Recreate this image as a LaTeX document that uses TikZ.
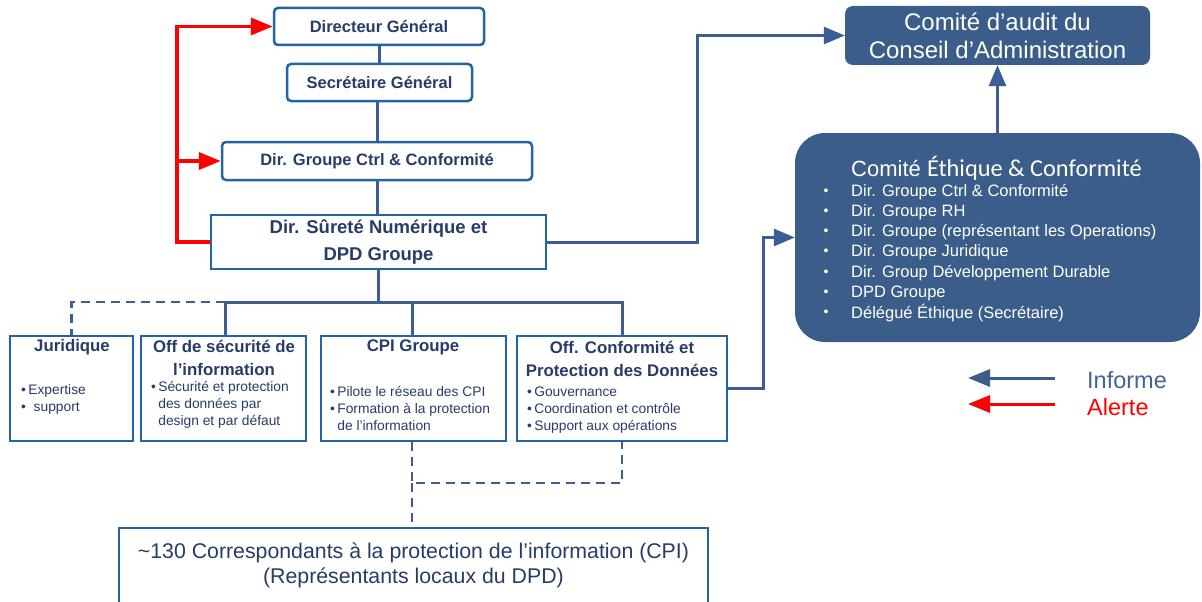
\documentclass[tikz,border=0pt]{standalone}
\usepackage{fontspec}
\setmainfont{Liberation Sans}
\newfontfamily\calib{Carlito}
\usetikzlibrary{arrows.meta}
\definecolor{bord}{RGB}{35,100,165}
\definecolor{navy}{RGB}{40,60,105}
\definecolor{conn}{RGB}{62,92,150}
\definecolor{cfill}{RGB}{58,93,138}
\definecolor{alertred}{RGB}{255,0,0}
\definecolor{legblue}{RGB}{70,100,145}
\begin{document}
\begin{tikzpicture}[x=1pt,y=-1pt,
 box/.style={draw=bord,line width=2.5pt,rounded corners=4pt,fill=white,inner sep=0pt,text=navy,align=center,font=\bfseries\fontsize{16.5}{20}\selectfont},
 sqbox/.style={box,rounded corners=0pt},
 cbox/.style={fill=cfill,draw=none,text=white,inner sep=0pt,align=center},
 inf/.style={draw=conn,line width=3pt},
 infarr/.style={inf,-{Triangle[length=21pt,width=17pt]}},
 alertarr/.style={draw=alertred,line width=3.5pt,-{Triangle[length=22pt,width=17pt]}},
 dashline/.style={draw=conn,line width=2.5pt,dash pattern=on 9pt off 6pt},
 ttl/.style={text=navy,font=\bfseries\fontsize{16.8}{23}\selectfont,align=center,inner sep=0pt},
 bul/.style={text=navy,font=\fontsize{13.8}{17.3}\selectfont,align=left,inner sep=0pt,anchor=north west},
 eitem/.style={text=white,font=\fontsize{16.5}{20}\selectfont,anchor=west,inner sep=0pt},
]
\clip (0,0) rectangle (1202,602);
\fill[white] (0,0) rectangle (1202,602);

% top chain
\node[box,minimum width=210pt,minimum height=37pt] (DG) at (379,26.5) {Directeur Général};
\node[box,minimum width=185pt,minimum height=37pt] (SG) at (379.5,82.5) {Secrétaire Général};
\node[box,minimum width=310pt,minimum height=38pt] (CTRL) at (377,161) {Dir. Groupe Ctrl \& Conformité};
\node[sqbox,minimum width=335pt,minimum height=54pt,font=\bfseries\fontsize{18.5}{27}\selectfont] (DSN) at (378.5,242) {Dir. Sûreté Numérique et\\DPD Groupe};

% bottom row boxes
\node[sqbox,minimum width=123pt,minimum height=105pt] (JUR) at (71.5,388.5) {};
\node[sqbox,minimum width=165pt,minimum height=105pt] (OSEC) at (223.5,388.5) {};
\node[sqbox,minimum width=185pt,minimum height=105pt] (CPI) at (413.5,388.5) {};
\node[sqbox,minimum width=210pt,minimum height=105pt] (OCONF) at (622,388.5) {};
\node[sqbox,minimum width=589pt,minimum height=84pt] (BOT) at (413.5,570) {};

% committees
\node[cbox,rounded corners=8pt,minimum width=305pt,minimum height=59pt,font=\fontsize{24}{28}\selectfont] (AUD) at (997.5,35.5) {Comité d’audit du\\Conseil d’Administration};
\node[cbox,rounded corners=30pt,minimum width=405pt,minimum height=209pt] (ETH) at (997.5,237.5) {};

% connectors top chain
\draw[inf] (DG.south) -- (DG.south |- SG.north);
\draw[inf] (SG.south -| 377,0) -- (CTRL.north);
\draw[inf] (CTRL.south) -- (CTRL.south |- DSN.north);
\coordinate (bus) at (378,302);
\draw[inf] (DSN.south -| bus) -- (bus);
\draw[inf] (OSEC.north -| 225,0) |- (bus) -| (OCONF.north);
\draw[inf] (bus) -| (CPI.north -| 412,0);
\draw[dashline] (225,302) -- (JUR.north |- bus) -- (JUR.north);

% dashed to CPI network
\coordinate (dj) at (412,483);
\draw[dashline] (CPI.south -| dj) -- (dj) -- (dj -| OCONF.south) -- (OCONF.south);
\draw[dashline] (dj) -- (BOT.north -| dj);

% red alert lines
\coordinate (rtop) at (177,26.5);
\coordinate (rmid) at (177,161);
\draw[alertarr] (DSN.west) -| (rtop) -- (DG.west);
\draw[alertarr] (rmid) -- (CTRL.west);

% informs
\coordinate (k1) at (697,35.5);
\draw[infarr] (DSN.east) -| (k1) -- (AUD.west);
\coordinate (k2) at (763,237.5);
\draw[infarr] (OCONF.east) -| (k2) -- (ETH.west);
\draw[infarr] (ETH.north) -- (AUD.south);

% bottom row texts
\node[ttl] (tJUR) at (72,347) {Juridique};
\node[bul] (bJUR) at (21,384) {\textbullet\,Expertise\\\textbullet\ \ support};

\node[ttl] (tOSEC) at (224,357.5) {Off de sécurité de\\l’information};
\node[bul] (bOSEC) at (151,379) {\begin{tabular}{@{}l@{\,}l@{}}\textbullet & Sécurité et protection\\ & des données par\\ & design et par défaut\end{tabular}};

\node[ttl] (tCPI) at (413,347) {CPI Groupe};
\node[bul] (bCPI) at (330,384) {\begin{tabular}{@{}l@{\,}l@{}}\textbullet & Pilote le réseau des CPI\\ \textbullet & Formation à la protection\\ & de l’information\end{tabular}};

\node[ttl] (tOCONF) at (622,358.5) {Off. Conformité et\\Protection des Données};
\node[bul] (bOCONF) at (527,384) {\begin{tabular}{@{}l@{\,}l@{}}\textbullet & Gouvernance\\ \textbullet & Coordination et contrôle\\ \textbullet & Support aux opérations\end{tabular}};

\node[text=navy,align=center,inner sep=0pt,font=\fontsize{21.3}{25}\selectfont] (tBOT) at (413.5,565.5) {\char`~130 Correspondants à la protection de l’information (CPI)\\(Représentants locaux du DPD)};

% ethics committee text
\node[text=white,anchor=west,inner sep=0pt] (tETH) at (851,168) {\fontsize{22}{26}\selectfont Comité {\calib\fontsize{24.3}{26}\selectfont Éthique \& Conformité}};
\foreach \t [count=\i from 0] in {Dir. Groupe Ctrl \& Conformité,Dir. Groupe RH,Dir. Groupe (représentant les Operations),Dir. Groupe Juridique,Dir. Group Développement Durable,DPD Groupe,Délégué Éthique (Secrétaire)}{
  \node[eitem] (e\i) at (851,{192+20.2*\i}) {\t};
  \node[text=white,inner sep=0pt,font=\fontsize{14}{16}\selectfont] (eb\i) at (826,{192+20.2*\i}) {\textbullet};
}

% legend
\coordinate (l1s) at (1055,378);
\coordinate (l1e) at (968,378);
\coordinate (l2s) at (1055,404);
\coordinate (l2e) at (968,404);
\draw[draw=cfill,line width=3pt,-{Triangle[length=22pt,width=17pt]}] (l1s) -- (l1e);
\draw[draw=alertred,line width=3pt,-{Triangle[length=22pt,width=17pt]}] (l2s) -- (l2e);
\node[anchor=west,inner sep=0pt,text=legblue,font=\fontsize{23.5}{26}\selectfont] (lI) at (1087,380) {Informe};
\node[anchor=west,inner sep=0pt,text=alertred,font=\fontsize{23.5}{26}\selectfont] (lA) at (1087,407) {Alerte};
\end{tikzpicture}
\end{document}
